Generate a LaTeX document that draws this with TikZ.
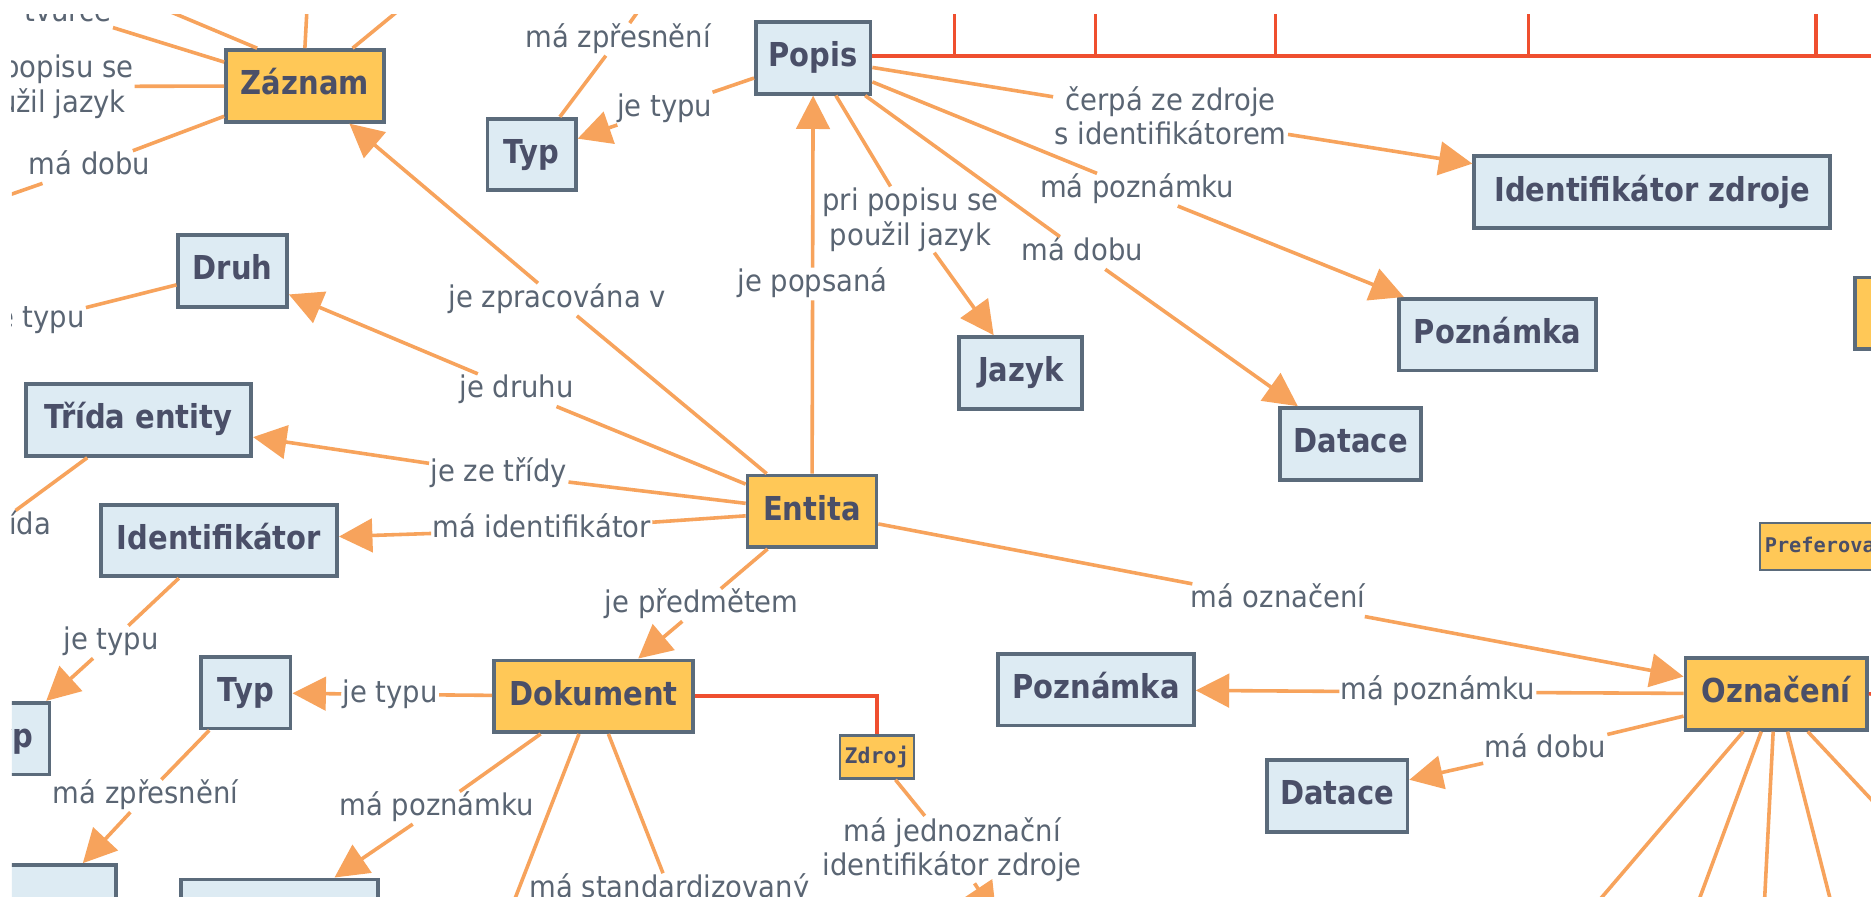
\documentclass[tikz,border=0pt]{standalone}
\usepackage{fontspec}
\usetikzlibrary{arrows.meta,calc}
\newfontfamily\cnodefont{DejaVu Sans}[FakeStretch=0.88]
\newfontfamily\clabelfont{DejaVu Sans}[FakeStretch=0.92]
\newfontfamily\cmonofont{DejaVu Sans Mono}
\definecolor{orfill}{HTML}{FFC857}
\definecolor{blfill}{HTML}{DDEBF3}
\definecolor{bordc}{HTML}{5B6B7B}
\definecolor{ntext}{HTML}{4A4F68}
\definecolor{ltext}{HTML}{5A6573}
\definecolor{linec}{HTML}{F7A35C}
\definecolor{redc}{HTML}{EF4F2F}
\tikzset{
  concept/.style={draw=bordc, line width=3.2pt, text=ntext, inner sep=0pt,
    font=\cnodefont\bfseries\fontsize{27.6}{33}\selectfont,
    text height=20pt, text depth=5pt, minimum height=60pt},
  orc/.style={concept, fill=orfill},
  blc/.style={concept, fill=blfill},
  smallbox/.style={draw=bordc, line width=2pt, fill=orfill, text=ntext, inner sep=0pt,
    font=\cmonofont\bfseries\fontsize{18}{20}\selectfont},
  lbl/.style={text=ltext, font=\clabelfont\fontsize{25}{29}\selectfont,
    inner sep=1pt, text height=19pt, text depth=6pt},
  lbltwo/.style={text=ltext, font=\clabelfont\fontsize{25}{29}\selectfont,
    inner sep=1pt, align=center},
  conn/.style={draw=linec, line width=3pt},
  arr/.style={conn, -{Triangle[length=28pt,width=28pt]}},
  redline/.style={draw=redc, line width=3pt}
}
\begin{document}
\begin{tikzpicture}[x=1pt,y=-1pt]
\fill[white] (0,0) rectangle (1568,751);
\useasboundingbox (0,0) rectangle (1568,751);
\begin{scope}
\clip (10,12) rectangle (1568,751);
% ---------- concepts ----------
\node[orc, minimum width=132pt] (zaznam) at (255.5,72) {Záznam};
\node[blc, minimum width=74pt] (typ1) at (445.5,129.5) {Typ};
\node[blc, minimum width=96pt] (popis) at (681.5,48.5) {Popis};
\node[blc, minimum width=298pt] (idzdroje) at (1384.5,161) {Identifikátor zdroje};
\node[blc, minimum width=91pt] (druh) at (195,227) {Druh};
\node[blc, minimum width=165pt] (pozn1) at (1255,280.5) {Poznámka};
\node[blc, minimum width=103pt] (jazyk) at (855.5,312.5) {Jazyk};
\node[blc, minimum width=189pt] (trida) at (116,352) {Třída entity};
\node[blc, minimum width=118pt] (datace1) at (1132,372) {Datace};
\node[orc, minimum width=108pt] (entita) at (680.5,428.5) {Entita};
\node[blc, minimum width=198pt] (ident) at (183.5,453) {Identifikátor};
\node[blc, minimum width=75pt] (typ2) at (206,580.5) {Typ};
\node[orc, minimum width=167pt] (dokument) at (497.5,583.5) {Dokument};
\node[smallbox, minimum width=62pt, minimum height=36pt] (zdroj) at (735,634.5) {Zdroj};
\node[blc, minimum width=164pt] (pozn2) at (918.5,578) {Poznámka};
\node[orc, minimum width=152pt] (oznaceni) at (1488.5,581.5) {Označení};
\node[blc, minimum width=118pt] (datace2) at (1120.5,667) {Datace};
\node[blc, minimum width=75pt] (typ3) at (4,619) {Typ};
\node[blc, minimum width=115pt] (box4) at (40,755) {};
\node[blc, minimum width=165pt] (pozn3) at (234,767) {};
\node[smallbox, anchor=west, minimum height=39pt, inner xsep=4pt, font=\cmonofont\bfseries\fontsize{17}{19}\selectfont] (pref) at (1474,458) {Preferovaný};
\node[orc, anchor=west, minimum width=130pt] (rbox) at (1553,262.5) {};
% ---------- linking phrases ----------
\node[lbl, anchor=base] (L1) at (57,18) {tvůrce};
\node[lbltwo] (L2) at (38,72.5) {pri popisu se\\použil jazyk};
\node[lbl] (L3) at (75,140) {má dobu};
\node[lbl] (L4) at (518,33) {má zpřesnění};
\node[lbl] (L5) at (557,91) {je typu};
\node[lbltwo] (L6) at (981,97) {čerpá ze zdroje\\s identifikátorem};
\node[lbl] (L7) at (953,159) {má poznámku};
\node[lbl] (L8) at (907,212) {má dobu};
\node[lbltwo] (L9) at (763,184) {pri popisu se\\použil jazyk};
\node[lbl] (L10) at (681,238) {je popsaná};
\node[lbl] (L11) at (467,251) {je zpracována v};
\node[lbl] (L12) at (433,327) {je druhu};
\node[lbl] (L13) at (418,397) {je ze třídy};
\node[lbl] (L14) at (454,444) {má identifikátor};
\node[lbl] (L15) at (588,507) {je předmětem};
\node[lbl] (L16) at (1071,503) {má označení};
\node[lbl] (L17) at (327,582) {je typu};
\node[lbltwo] (L18) at (798,712) {má jednoznační\\identifikátor zdroje};
\node[lbl] (L19) at (366,677) {má poznámku};
\node[lbl] (L20) at (561,745.5) {má standardizovaný};
\node[lbl] (L21) at (93,538) {je typu};
\node[lbl] (L22) at (122,667) {má zpřesnění};
\node[lbl] (L23) at (1205,580) {má poznámku};
\node[lbl] (L24) at (1295,628) {má dobu};
\node[lbl] (L25) at (31,268) {je typu};
\node[lbl] (L26) at (-5.5,441.5) {podtřída};
% ---------- free ends outside the view ----------
\coordinate (offZ1) at (105,-6);
\coordinate (offZ2) at (258,-6);
\coordinate (offZ3) at (352,-6);
\coordinate (offL3) at (-40,180);
\coordinate (offL4) at (545,-5);
\coordinate (offRed1) at (1600,47);
\coordinate (offRed2) at (1600,583);
\coordinate (offL18) at (835,768);
\coordinate (offD1) at (425,770);
\coordinate (oz1) at (1327,770);
\coordinate (oz2) at (1418,770);
\coordinate (oz3) at (1478,770);
\coordinate (oz4) at (1538,770);
\coordinate (oz5) at (1600,704);
\foreach \i/\x in {1/800,2/918,3/1069,4/1281,5/1522}{
  \coordinate (rb\i) at (\x,47);
  \coordinate (rt\i) at (\x,-5);
}
% ---------- connectors ----------
\draw[conn] ([xshift=-40pt]zaznam.north) -- (offZ1);
\draw[conn] (zaznam.north) -- (offZ2);
\draw[conn] ([xshift=40pt]zaznam.north) -- (offZ3);
\draw[conn] ([yshift=20pt]zaznam.west) -- (L1);
\draw[conn] (zaznam) -- (L2);
\draw[conn] (zaznam) -- (L3);
\draw[conn] (L3) -- (offL3);
\draw[conn] (typ1) -- (L4);
\draw[conn] (L4) -- (offL4);
\draw[conn] (popis) -- (L5);
\draw[arr] (L5) -- (typ1);
\draw[redline] ([yshift=1.5pt]popis.east) -- (offRed1);
\foreach \i in {1,...,5}{\draw[redline] (rb\i) -- (rt\i);}
\draw[conn] (popis) -- (L6);
\draw[arr] (L6) -- (idzdroje);
\draw[conn] (popis) -- (L7);
\draw[arr] (L7) -- (pozn1);
\draw[conn] (popis) -- (L8);
\draw[arr] (L8) -- (datace1);
\draw[conn] (popis) -- (L9);
\draw[arr] (L9) -- (jazyk);
\draw[conn] (entita) -- (L10);
\draw[arr] (L10) -- (popis);
\draw[conn] (entita) -- (L11);
\draw[arr] (L11) -- (zaznam);
\draw[conn] (entita) -- (L12);
\draw[arr] (L12) -- (druh);
\draw[conn] (entita) -- (L13);
\draw[arr] (L13) -- (trida);
\draw[conn] (entita) -- (L14);
\draw[arr] (L14) -- (ident);
\draw[conn] (entita) -- (L15);
\draw[arr] (L15) -- (dokument);
\draw[conn] (entita) -- (L16);
\draw[arr] (L16) -- (oznaceni);
\draw[conn] (dokument) -- (L17);
\draw[arr] (L17) -- (typ2);
\draw[redline] (dokument.east) -| (zdroj.north);
\draw[conn] (zdroj) -- (L18);
\draw[arr] (L18) -- (offL18);
\draw[conn] (dokument) -- (L19);
\draw[arr] (L19) -- (pozn3);
\draw[conn] (dokument) -- (L20);
\draw[conn] (dokument) -- (offD1);
\draw[conn] (ident) -- (L21);
\draw[arr] (L21) -- (typ3);
\draw[conn] (typ2) -- (L22);
\draw[arr] (L22) -- (box4);
\draw[conn] (druh) -- (L25);
\draw[conn] (trida) -- (L26);
\draw[conn] (oznaceni) -- (L23);
\draw[arr] (L23) -- (pozn2);
\draw[conn] (oznaceni) -- (L24);
\draw[arr] (L24) -- (datace2);
\draw[redline] (oznaceni.east) -- (offRed2);
\draw[conn] ([xshift=-27.5pt]oznaceni.south) -- (oz1);
\draw[conn] ([xshift=-12.5pt]oznaceni.south) -- (oz2);
\draw[conn] ([xshift=-2.5pt]oznaceni.south) -- (oz3);
\draw[conn] ([xshift=9.5pt]oznaceni.south) -- (oz4);
\draw[conn] ([xshift=26.5pt]oznaceni.south) -- (oz5);
\end{scope}
\end{tikzpicture}
\end{document}
